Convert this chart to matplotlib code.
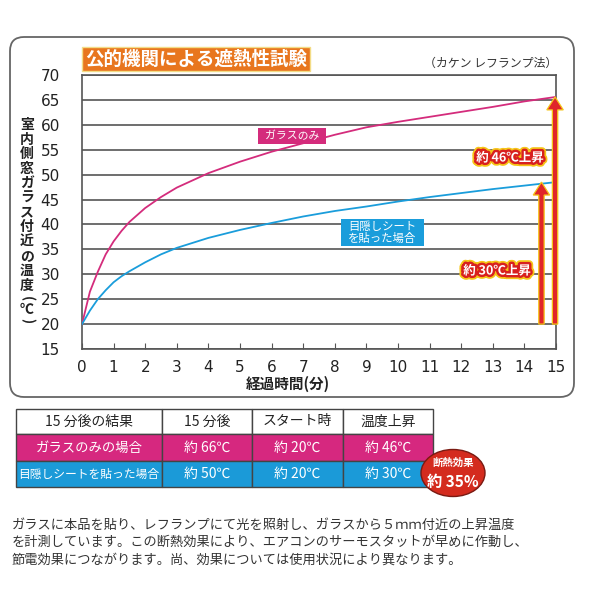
import matplotlib
matplotlib.use("Agg")
import matplotlib.pyplot as plt
from matplotlib.patches import FancyBboxPatch, Rectangle, Ellipse, FancyArrow
import matplotlib.patheffects as pe

plt.rcParams['font.family'] = ['Noto Sans CJK JP', 'DejaVu Sans']

# readings (minutes -> temperature in C)
minutes = [0, 0.25, 0.5, 0.75, 1, 1.25, 1.5, 2, 2.5, 3, 4, 5, 6, 7, 8, 9, 10, 11, 12, 13, 14, 15]
glass_only = [20, 26.5, 30.5, 34, 36.6, 38.7, 40.5, 43.3, 45.5, 47.4, 50.3, 52.6, 54.6, 56.3,
              58.0, 59.5, 60.6, 61.6, 62.6, 63.6, 64.7, 65.6]
with_sheet = [20, 22.7, 25, 26.8, 28.4, 29.6, 30.6, 32.4, 34, 35.3, 37.3, 38.9, 40.3, 41.6,
              42.7, 43.6, 44.6, 45.5, 46.3, 47.1, 47.8, 48.5]
start_temp = 20

title = '公的機関による遮熱性試験'
method = '（カケン レフランプ法）'
ylabel_chars = list('室内側窓ガラス付近の温度(℃)')
xlabel = '経過時間(分)'
series_labels = ['ガラスのみ', '目隠しシート\nを貼った場合']
rise_labels = ['約 46℃上昇', '約 30℃上昇']

table_header = ['15 分後の結果', '15 分後', 'スタート時', '温度上昇']
table_rows = [
    ['ガラスのみの場合', '約 66℃', '約 20℃', '約 46℃'],
    ['目隠しシートを貼った場合', '約 50℃', '約 20℃', '約 30℃'],
]
effect_title = '断熱効果'
effect_value = '約 35%'
footer = [
    'ガラスに本品を貼り、レフランプにて光を照射し、ガラスから５ｍｍ付近の上昇温度',
    'を計測しています。この断熱効果により、エアコンのサーモスタットが早めに作動し、',
    '節電効果につながります。尚、効果については使用状況により異なります。',
]

MAGENTA = '#d42c7c'
BLUE = '#1a9ddb'
RED = '#e0262a'
YELLOW = '#f5c518'
GRID = '#555555'

fig = plt.figure(figsize=(6, 6), dpi=100)

# full-figure overlay in pixel units for the layout pieces
ov = fig.add_axes([0, 0, 1, 1], zorder=0)
ov.set_xlim(0, 600)
ov.set_ylim(600, 0)
ov.axis('off')

ov.add_patch(FancyBboxPatch((10, 37), 564, 360, boxstyle='round,pad=0,rounding_size=14',
                            fc='white', ec='#666666', lw=1.3))
ov.add_patch(Rectangle((82, 47), 228, 24, fc='#e8761e', ec='#f3dc86', lw=1))
ov.text(196, 59.5, title, color='white', fontsize=13.3, fontweight='bold', ha='center', va='center')
ov.text(557, 63, method, color='#333333', fontsize=8.6, ha='right', va='center')

# vertical y label, one character per row; brackets turned for vertical writing
ys = [125 + 14.6 * i for i in range(12)] + [299, 310, 321]
for ch, yy in zip(ylabel_chars, ys):
    rot = -90 if ch in '()' else 0
    ov.text(27, yy, ch, fontsize=10, fontweight='bold', color='#222222', ha='center', va='center',
            rotation=rot)

ov.text(288, 384, xlabel, fontsize=10.5, fontweight='bold', color='#222222', ha='center', va='center')

# main plot
ax = fig.add_axes([82 / 600, 1 - 349 / 600, 474 / 600, 274 / 600], zorder=1)
ax.patch.set_alpha(0)
ax.set_xlim(0, 15)
ax.set_ylim(15, 70)
ax.set_xticks(range(16))
ax.set_yticks(range(15, 71, 5))
ax.grid(axis='y', color=GRID, lw=1.2)
ax.set_axisbelow(True)
for s in ax.spines.values():
    s.set_color(GRID)
    s.set_linewidth(1.2)
ax.tick_params(axis='y', length=0, pad=16, labelsize=11, labelcolor='#222222')
ax.tick_params(axis='x', direction='in', length=4, color=GRID, pad=8, labelsize=11, labelcolor='#222222')
for lab in ax.get_xticklabels() + ax.get_yticklabels():
    lab.set_family('DejaVu Sans')

ax.plot(minutes, glass_only, color=MAGENTA, lw=1.3, zorder=3)
ax.plot(minutes, with_sheet, color=BLUE, lw=1.3, zorder=3)

# rise arrows
for x, top in [(14.97, glass_only[-1]), (14.54, with_sheet[-1])]:
    ax.add_patch(FancyArrow(x, start_temp, 0, top - start_temp, width=0.17, head_width=0.52,
                            head_length=2.6, length_includes_head=True, fc=RED, ec=YELLOW,
                            lw=0.9, zorder=4, clip_on=False))

# series label boxes
ax.add_patch(Rectangle((258, 128), 68, 16, fc=MAGENTA, ec='none', zorder=5, transform=ov.transData))
ax.text(292, 136, series_labels[0], color='white', fontsize=7.8, ha='center', va='center',
        zorder=6, transform=ov.transData)
ax.add_patch(Rectangle((341, 219), 83, 27, fc=BLUE, ec='none', zorder=5, transform=ov.transData))
ax.text(382.5, 232.5, series_labels[1], color='white', fontsize=8.2, ha='center', va='center',
        linespacing=1.05, zorder=6, transform=ov.transData)

outline = [pe.Stroke(linewidth=6, foreground=YELLOW), pe.Stroke(linewidth=3.5, foreground='#d8201f'),
           pe.Normal()]
for (cx, cy), txt in zip([(510, 158), (497, 271)], rise_labels):
    ax.text(cx, cy, txt, color='white', fontsize=9, fontweight='bold', ha='center', va='center',
            zorder=7, transform=ov.transData, path_effects=outline)

# results table
col_x = [16, 162, 252, 343, 433]
row_y = [409, 434, 461, 487]
fills = ['white', '#d6287f', '#1b9ad8']
for r, row in enumerate([table_header] + table_rows):
    for c, txt in enumerate(row):
        x0, x1 = col_x[c], col_x[c + 1]
        y0, y1 = row_y[r], row_y[r + 1]
        ov.add_patch(Rectangle((x0, y0), x1 - x0, y1 - y0, fc=fills[r], ec='#444444', lw=1))
        fs = 10
        if c == 0 and r == 1:
            fs = 9.6
        if c == 0 and r == 2:
            fs = 8.5
        ov.text((x0 + x1) / 2, (y0 + y1) / 2, txt, fontsize=fs, ha='center', va='center',
                color='#222222' if r == 0 else 'white')

ov.add_patch(Ellipse((453, 473), 64, 47, fc='#d42b1e', ec='#7a1a12', lw=1))
ov.text(453, 462.5, effect_title, color='white', fontsize=7.5, fontweight='bold', ha='center', va='center')
ov.text(453, 481.5, effect_value, color='white', fontsize=11, fontweight='bold', ha='center', va='center')

for i, line in enumerate(footer):
    ov.text(12, 525 + 17.8 * i, line, fontsize=9.5, color='#333333', ha='left', va='center')

fig.savefig('out.png', dpi=100, facecolor='white')
